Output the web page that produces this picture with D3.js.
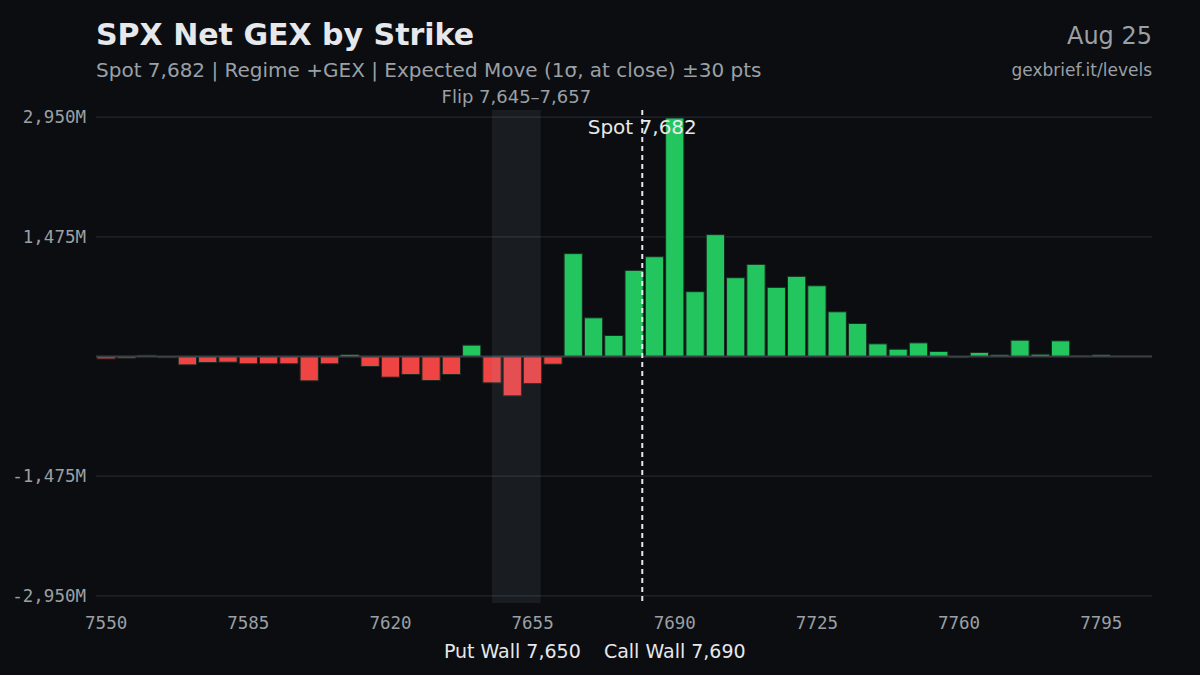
<!DOCTYPE html>
<html>
<head>
<meta charset="utf-8">
<script src="https://cdn.jsdelivr.net/npm/d3@7"></script>
<style>
  html, body { margin: 0; padding: 0; background: #0b0d10; }
  svg { display: block; }
</style>
</head>
<body>
<svg id="chart" width="1200" height="675"></svg>
<script>
'use strict';

// Strikes, 5 pts apart.
var strikes = d3.range(7550, 7806, 5);

// Net GEX per strike, in millions.
var gex = [
  -30, -20, 15, -15, -103, -74, -70, -90, -90, -90,
  -300, -90, 25, -123, -255, -222, -296, -222, 140, -325,
  -485, -333, -95, 1268, 477, 259, 1062, 1230, 2940, 799,
  1502, 971, 1136, 852, 988, 872, 551, 407, 156, 90,
  168, 62, -15, 50, 20, 201, 28, 193, 12, 20,
  6, 6
];

var xTicks = [7550, 7585, 7620, 7655, 7690, 7725, 7760, 7795];
var yTicks = [-2950, -1475, 1475, 2950];

var spot = 7682;
var flip = [7645, 7657];
var putWall = 7650;
var callWall = 7690;

var svg = d3.select('#chart'),
    margin = {top: 110, right: 48, bottom: 72, left: 96},
    width = 1200 - margin.left - margin.right,
    height = 675 - margin.top - margin.bottom;

var x = d3.scaleBand()
  .domain(strikes)
  .range([0, width])
  .paddingInner(0.1)
  .paddingOuter(0.05);

// Continuous strike -> pixel, through band centres.
var xc = d3.scaleLinear()
  .domain([strikes[0], strikes[strikes.length - 1]])
  .range([x(strikes[0]) + x.bandwidth() / 2,
          x(strikes[strikes.length - 1]) + x.bandwidth() / 2]);

var yMax = 2950 * 1.03;
var y = d3.scaleLinear().domain([-yMax, yMax]).range([height, 0]);

var g = svg.append('g')
  .attr('transform', 'translate(' + margin.left + ',' + margin.top + ')');

// Grid
g.append('g')
  .selectAll('line')
  .data(yTicks)
  .enter().append('line')
  .attr('x1', 0).attr('x2', width)
  .attr('y1', function(d) { return y(d); })
  .attr('y2', function(d) { return y(d); })
  .attr('stroke', '#22272e')
  .attr('stroke-width', 1.2);

// Y axis
var fmt = d3.format(',');
var yAxis = g.append('g')
  .call(d3.axisLeft(y).tickValues(yTicks).tickSize(0).tickPadding(10)
    .tickFormat(function(d) {
      return (d < 0 ? '-' : '') + fmt(Math.abs(d)) + 'M';
    }));
yAxis.select('.domain').remove();
yAxis.selectAll('text')
  .attr('fill', '#9aa0a6')
  .style('font-family', '"DejaVu Sans Mono", monospace')
  .style('font-size', '17.5px');

// Bars
g.append('g')
  .selectAll('rect')
  .data(strikes)
  .enter().append('rect')
  .attr('x', function(d) { return x(d); })
  .attr('width', x.bandwidth())
  .attr('y', function(d, i) { return y(Math.max(0, gex[i])); })
  .attr('height', function(d, i) { return Math.abs(y(gex[i]) - y(0)); })
  .attr('fill', function(d, i) { return gex[i] >= 0 ? '#22c55e' : '#ef4444'; })
  .attr('stroke', '#1c2a22')
  .attr('stroke-width', 1);

// Zero line
g.append('line')
  .attr('x1', 0).attr('x2', width)
  .attr('y1', y(0)).attr('y2', y(0))
  .attr('stroke', '#3a3f46')
  .attr('stroke-width', 2);

// Flip zone
g.append('rect')
  .attr('x', xc(flip[0]))
  .attr('width', xc(flip[1]) - xc(flip[0]))
  .attr('y', 0)
  .attr('height', height)
  .attr('fill', '#a0aec0')
  .attr('fill-opacity', 0.1);

g.append('text')
  .attr('x', (xc(flip[0]) + xc(flip[1])) / 2)
  .attr('y', -7)
  .attr('text-anchor', 'middle')
  .attr('fill', '#9aa0a6')
  .style('font-family', '"DejaVu Sans", sans-serif')
  .style('font-size', '18px')
  .text('Flip 7,645\u20137,657');

// Spot line
g.append('line')
  .attr('x1', xc(spot)).attr('x2', xc(spot))
  .attr('y1', 0).attr('y2', height)
  .attr('stroke', '#e6e8eb')
  .attr('stroke-width', 2)
  .attr('stroke-dasharray', '5,4');

g.append('text')
  .attr('x', xc(spot))
  .attr('y', 24)
  .attr('text-anchor', 'middle')
  .attr('fill', '#e6e8eb')
  .style('font-family', '"DejaVu Sans", sans-serif')
  .style('font-size', '20px')
  .text('Spot 7,682');

// X axis
var xAxis = g.append('g')
  .attr('transform', 'translate(0,' + height + ')')
  .call(d3.axisBottom(x).tickValues(xTicks).tickSize(0).tickPadding(14));
xAxis.select('.domain').remove();
xAxis.selectAll('text')
  .attr('fill', '#9aa0a6')
  .style('font-family', '"DejaVu Sans Mono", monospace')
  .style('font-size', '17.5px');

// Wall labels
var walls = [
  {strike: putWall, label: 'Put Wall 7,650'},
  {strike: callWall, label: 'Call Wall 7,690'}
];
g.append('g')
  .selectAll('text')
  .data(walls)
  .enter().append('text')
  .attr('x', function(d) { return xc(d.strike); })
  .attr('y', height + 55)
  .attr('text-anchor', 'middle')
  .attr('fill', '#e6e8eb')
  .style('font-family', '"DejaVu Sans", sans-serif')
  .style('font-size', '19px')
  .text(function(d) { return d.label; });

// Titles
svg.append('text')
  .attr('x', 96).attr('y', 45)
  .attr('fill', '#e6e8eb')
  .style('font-family', '"DejaVu Sans", sans-serif')
  .style('font-weight', 'bold')
  .style('font-size', '30px')
  .text('SPX Net GEX by Strike');

svg.append('text')
  .attr('x', 96).attr('y', 77)
  .attr('fill', '#9aa0a6')
  .style('font-family', '"DejaVu Sans", sans-serif')
  .style('font-size', '20px')
  .text('Spot 7,682 | Regime +GEX | Expected Move (1\u03c3, at close) \u00b130 pts');

svg.append('text')
  .attr('x', 1152).attr('y', 44)
  .attr('text-anchor', 'end')
  .attr('fill', '#9aa0a6')
  .style('font-family', '"DejaVu Sans", sans-serif')
  .style('font-size', '24px')
  .text('Aug 25');

svg.append('text')
  .attr('x', 1152).attr('y', 76)
  .attr('text-anchor', 'end')
  .attr('fill', '#9aa0a6')
  .style('font-family', '"DejaVu Sans", sans-serif')
  .style('font-size', '17px')
  .text('gexbrief.it/levels');
</script>
</body>
</html>
